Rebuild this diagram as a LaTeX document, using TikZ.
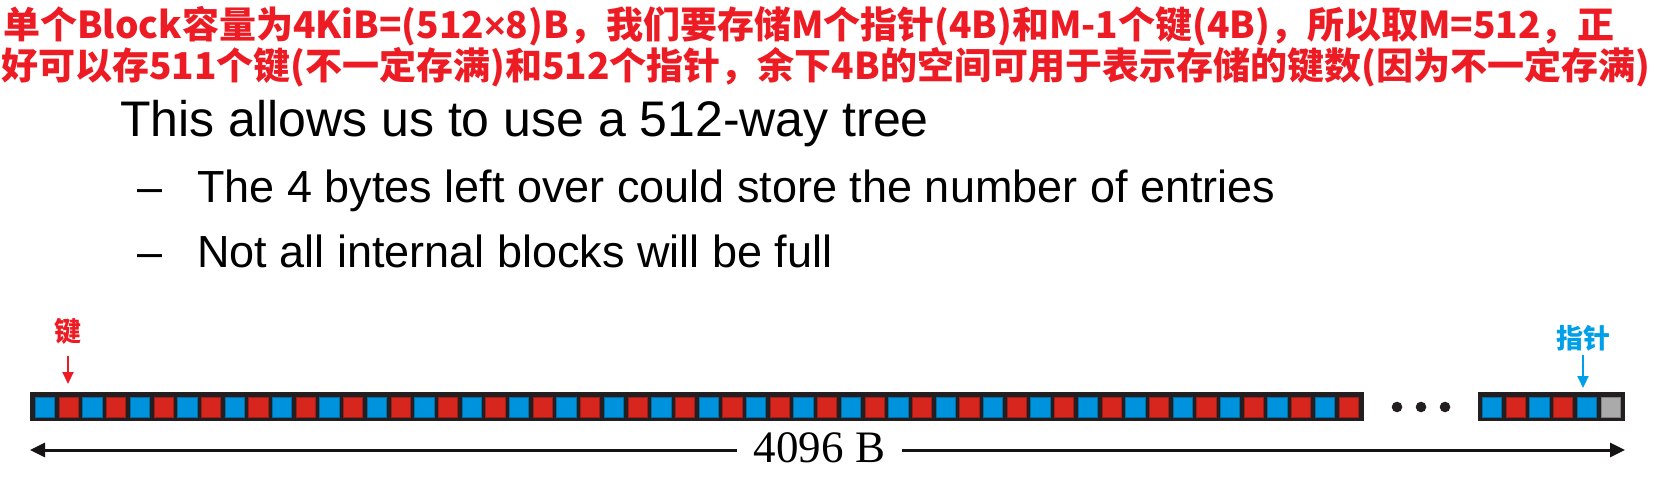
\documentclass[tikz,border=0pt]{standalone}
\usepackage{fontspec}
\setmainfont{Liberation Sans}
\newfontfamily\cjk{Noto Sans CJK SC}
\newfontfamily\timesfont{Liberation Serif}
\usetikzlibrary{arrows.meta}
\definecolor{noteRed}{RGB}{237,28,36}
\definecolor{noteBlue}{RGB}{0,160,233}
\definecolor{keyRed}{RGB}{215,38,30}
\definecolor{ptrBlue}{RGB}{0,147,221}
\definecolor{frameDark}{RGB}{35,31,32}
\definecolor{spareGray}{RGB}{170,170,170}
\newcommand\narrowtimes{{\normalfont\bfseries ×}}

\begin{document}
\begin{tikzpicture}[x=1pt, y=-1pt,
    note/.style={anchor=base west, inner sep=0pt, text=noteRed, font=\cjk\bfseries\fontsize{37}{44}\selectfont},
    bullet/.style={anchor=base west, inner sep=0pt, font=\fontsize{45}{54}\selectfont},
    frame/.style={anchor=north west, fill=frameDark, inner sep=0pt, minimum height=29pt},
    cell/.style={anchor=north west, fill=#1, draw=#1!75!black, line width=0.6pt, inner sep=0pt, minimum width=19.3pt, minimum height=20pt},
    tag/.style={anchor=base, inner sep=0pt, font=\cjk\bfseries\fontsize{27}{32}\selectfont},
    tagarrow/.style={-{Triangle[length=12pt,width=11pt]}, line width=2pt},
    dimarrow/.style={-{Triangle[length=15pt,width=14pt]}, line width=3pt, frameDark!60!black}]
  \useasboundingbox (0,0) rectangle (1654,495);

  \node[note] (line1) at (3,39) {单个Block容量为4KiB=(512\narrowtimes8)B，我们要存储M个指针(4B)和M-1个键(4B)，所以取M=512，正};
  \node[note] (line2) at (1,80) {好可以存511个键(不一定存满)和512个指针，余下4B的空间可用于表示存储的键数(因为不一定存满)};

  \node[bullet, font=\fontsize{50}{60}\selectfont] (claim) at (120,136) {This allows us to use a 512-way tree};
  \node[bullet] (dash1) at (137,202) {–};
  \node[bullet] (sub1) at (197,202) {The 4 bytes left over could store the number of entries};
  \node[bullet] (dash2) at (137,267) {–};
  \node[bullet] (sub2) at (197,267) {Not all internal blocks will be full};

  \node[frame, minimum width=1334pt] (strip) at (30,392) {};
  \foreach \i in {0,...,27} {
      \node[cell=ptrBlue] (p\i) at ({35+47.4*\i}, 397) {};
      \node[cell=keyRed] (k\i) at ({58.7+47.4*\i}, 397) {};
  }

  \foreach \x in {1397,1421,1445} {
      \fill[frameDark] (\x,407) circle (5.3);
  }

  \node[frame, minimum width=147pt] (tail) at (1478,392) {};
  \foreach \i/\c in {0/ptrBlue,1/keyRed,2/ptrBlue,3/keyRed,4/ptrBlue,5/spareGray} {
      \node[cell=\c] (t\i) at ({1482+23.7*\i}, 397) {};
  }

  \node[tag, text=noteRed] (keyname) at (68,341) {键};
  \node[tag, text=noteBlue] (ptrname) at (1583,348) {指针};
  \draw[tagarrow, noteRed, shorten <=12pt, shorten >=13pt] (keyname.south) -- (keyname.south |- k0.north);
  \draw[tagarrow, noteBlue, shorten <=4pt, shorten >=9pt] (ptrname.south) -- (ptrname.south |- t4.north);

  \coordinate (dimL) at (30,450);
  \coordinate (dimR) at (1625,450);
  \node[anchor=base, inner xsep=17pt, inner ysep=0pt, font=\timesfont\fontsize{45}{54}\selectfont] (size) at (819.5,462) {4096 B};
  \draw[dimarrow] (dimL -| size.west) -- (dimL);
  \draw[dimarrow] (dimR -| size.east) -- (dimR);
\end{tikzpicture}
\end{document}
